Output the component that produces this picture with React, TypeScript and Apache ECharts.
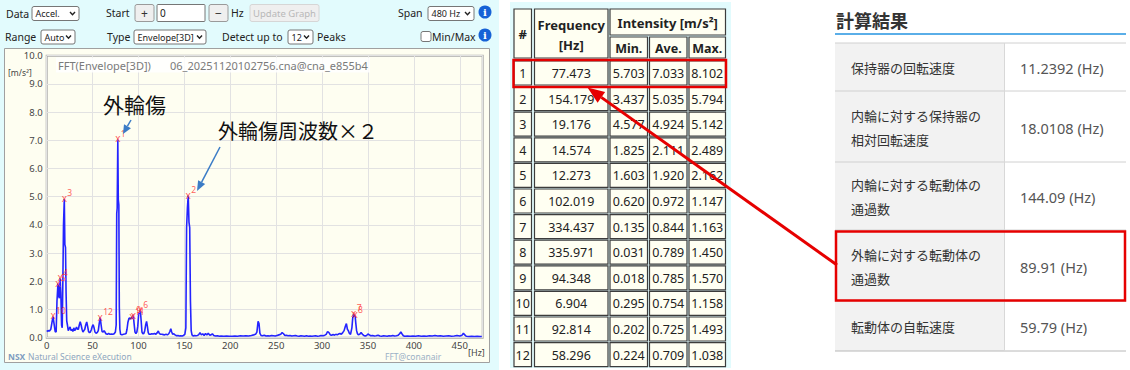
import { useEffect, useRef } from 'react';
import * as echarts from 'echarts';

// ---------- DATA ----------
const spectrumPoints: [number, number][] = [
  [0, 0.22], [1.5, 0.25], [3, 0.24], [4.5, 0.3], [5.8, 0.55], [6.9, 0.75], [8, 0.5], [9.2, 0.22], [10.3, 0.2],
  [11.2, 1.3], [12.27, 1.92], [13.2, 1.45], [13.8, 1.4], [14.57, 2.11], [15.4, 1.6], [16.2, 0.45], [16.9, 0.35],
  [17.6, 2.0], [18.3, 4.0], [19.18, 4.92], [19.8, 3.3], [20.5, 3.2], [21.1, 1.6], [21.8, 0.6], [22.6, 0.45],
  [23.5, 0.25], [24.5, 0.32], [25.5, 0.38], [26.5, 0.25], [27.5, 0.3], [28.5, 0.22], [29.5, 0.35], [30.5, 0.25],
  [31.5, 0.3], [32.5, 0.38], [33.5, 0.3], [34.5, 0.3], [35.5, 0.45], [36.5, 0.57], [37.5, 0.45], [38.5, 0.3],
  [39.5, 0.2], [40.5, 0.25], [41.5, 0.3], [42.5, 0.45], [43.6, 0.56], [44.6, 0.4], [45.6, 0.22], [46.6, 0.18],
  [47.6, 0.2], [48.6, 0.28], [49.6, 0.4], [50.6, 0.46], [51.6, 0.35], [52.6, 0.2], [53.8, 0.16], [55, 0.18],
  [56.2, 0.25], [57.2, 0.5], [58.3, 0.71], [59.3, 0.45], [60.3, 0.22], [61.5, 0.2], [62.5, 0.25], [63.5, 0.2],
  [64.5, 0.14], [66, 0.12], [67.5, 0.15], [69, 0.12], [70.5, 0.13], [72, 0.12], [73.5, 0.14], [74.8, 0.2],
  [75.7, 0.45], [76.3, 4.4], [76.8, 4.6], [77.47, 7.03], [78.0, 4.9], [78.6, 4.7], [79.1, 1.1], [79.7, 0.3],
  [80.5, 0.12], [82, 0.1], [83.5, 0.12], [85, 0.13], [86.5, 0.15], [87.5, 0.3], [88.5, 0.55], [89.6, 0.68],
  [90.6, 0.7], [91.6, 0.66], [92.81, 0.73], [93.6, 0.68], [94.35, 0.79], [95.2, 0.5], [96.2, 0.2], [97.2, 0.15],
  [98.2, 0.2], [99.2, 0.4], [100.2, 0.85], [101.1, 0.88], [102.02, 0.97], [102.9, 0.6], [103.8, 0.2], [104.8, 0.14],
  [105.8, 0.15], [106.8, 0.25], [107.8, 0.45], [108.8, 0.58], [109.7, 0.4], [110.6, 0.18], [111.6, 0.12], [113, 0.12],
  [114.5, 0.14], [116, 0.13], [117.5, 0.15], [119, 0.12], [120.5, 0.18], [121.6, 0.24], [122.7, 0.15], [124, 0.12],
  [125.5, 0.12], [127, 0.11], [128.5, 0.1], [130, 0.12], [131.5, 0.1], [133, 0.14], [134.2, 0.22], [135.2, 0.32],
  [136.2, 0.2], [137.2, 0.12], [138.5, 0.14], [139.8, 0.1], [141.5, 0.07], [143, 0.08], [144.5, 0.06], [146, 0.07],
  [147.5, 0.06], [149, 0.08], [150.5, 0.12], [151.6, 0.35], [152.4, 3.9], [153.3, 4.6], [154.18, 5.04], [155.0, 4.1],
  [155.8, 3.9], [156.6, 1.3], [157.4, 0.25], [158.3, 0.1], [159.5, 0.06], [161, 0.08], [162.5, 0.07], [164, 0.08],
  [165.5, 0.1], [167, 0.18], [168.5, 0.1], [170, 0.14], [171.5, 0.08], [173, 0.15], [174.5, 0.1], [176, 0.16],
  [177.5, 0.09], [179, 0.1], [180.5, 0.14], [182, 0.08], [184, 0.06], [186, 0.07], [188, 0.05], [190, 0.06],
  [193, 0.05], [196, 0.06], [199, 0.05], [202, 0.05], [205, 0.06], [208, 0.05], [211, 0.07], [214, 0.06],
  [217, 0.07], [220, 0.06], [223, 0.08], [225.5, 0.1], [227.5, 0.12], [229, 0.2], [230.3, 0.58], [231.3, 0.5],
  [232.3, 0.15], [233.5, 0.08], [235, 0.07], [237, 0.09], [239, 0.06], [241, 0.07], [243, 0.06], [245, 0.08],
  [247, 0.07], [249, 0.06], [251, 0.08], [253, 0.1], [255, 0.12], [256.5, 0.18], [258, 0.14], [259.5, 0.08],
  [261, 0.09], [263, 0.07], [265, 0.08], [267, 0.06], [269, 0.07], [271, 0.08], [273, 0.06], [275, 0.05],
  [277, 0.07], [279, 0.06], [281, 0.05], [283, 0.07], [285, 0.05], [287, 0.06], [289, 0.05], [291, 0.06],
  [293, 0.07], [295, 0.05], [297, 0.06], [299, 0.08], [301, 0.07], [303, 0.09], [304.5, 0.12], [306, 0.22],
  [307.5, 0.18], [309, 0.1], [310.5, 0.09], [312, 0.11], [313.5, 0.09], [315, 0.12], [316.5, 0.1], [318, 0.13],
  [319.5, 0.15], [321, 0.12], [322.5, 0.18], [324, 0.25], [325.3, 0.4], [326.5, 0.5], [327.6, 0.3], [328.6, 0.25],
  [329.8, 0.15], [331, 0.12], [332.5, 0.35], [333.4, 0.7], [334.44, 0.84], [335.2, 0.75], [335.97, 0.79], [336.8, 0.5],
  [337.6, 0.25], [338.5, 0.15], [339.5, 0.1], [341, 0.12], [342.5, 0.18], [344, 0.12], [345.5, 0.08], [347, 0.06],
  [348.5, 0.08], [350, 0.13], [351.5, 0.1], [353, 0.07], [355, 0.08], [357, 0.06], [359, 0.07], [361, 0.09],
  [363, 0.06], [365, 0.05], [367, 0.07], [369, 0.06], [371, 0.05], [373, 0.07], [375, 0.06], [377, 0.08],
  [379, 0.06], [381, 0.07], [383, 0.09], [384.5, 0.14], [385.8, 0.2], [387, 0.14], [388.5, 0.07], [390, 0.05],
  [393, 0.06], [396, 0.05], [399, 0.06], [402, 0.05], [405, 0.07], [408, 0.05], [411, 0.06], [414, 0.05],
  [417, 0.07], [420, 0.06], [423, 0.08], [426, 0.06], [429, 0.07], [432, 0.05], [435, 0.06], [438, 0.07],
  [441, 0.05], [444, 0.06], [447, 0.08], [450, 0.06], [452.5, 0.09], [454, 0.16], [455.5, 0.1], [457, 0.05],
  [460, 0.04], [463, 0.05], [466, 0.04], [469, 0.05], [472, 0.04], [474, 0.04],
];

const peakFreq = [77.473, 154.179, 19.176, 14.574, 12.273, 102.019, 334.437, 335.971, 94.348, 6.904, 92.814, 58.296];
const peakMin = [5.703, 3.437, 4.577, 1.825, 1.603, 0.620, 0.135, 0.031, 0.018, 0.295, 0.202, 0.224];
const peakAve = [7.033, 5.035, 4.924, 2.111, 1.920, 0.972, 0.844, 0.789, 0.785, 0.754, 0.725, 0.709];
const peakMax = [8.102, 5.794, 5.142, 2.489, 2.162, 1.147, 1.163, 1.450, 1.570, 1.158, 1.493, 1.038];

const xAxisMax = 475;
const yAxisMax = 10;

const chartTitle = 'FFT(Envelope[3D])';
const fileName = '06_20251120102756.cna@cna_e855b4';
const annotation1 = '外輪傷';
const annotation2 = '外輪傷周波数×２';

const resultTitle = '計算結果';
const resultLabels: string[][] = [
  ['保持器の回転速度'],
  ['内輪に対する保持器の', '相対回転速度'],
  ['内輪に対する転動体の', '通過数'],
  ['外輪に対する転動体の', '通過数'],
  ['転動体の自転速度'],
];
const resultValues = ['11.2392 (Hz)', '18.0108 (Hz)', '144.09 (Hz)', '89.91 (Hz)', '59.79 (Hz)'];

// ---------- STYLE HELPERS ----------
const F = '"Noto Sans", "DejaVu Sans", sans-serif';
const FJ = '"Noto Sans CJK JP", "Noto Sans", sans-serif';
const CYAN = '#e2fbfd';
const CREAM = '#fefef1';

type TOpt = { size?: number; weight?: string; color?: string; align?: string; family?: string; z?: number };
const T = (text: string, x: number, y: number, o: TOpt = {}) => ({
  type: 'text', x, y, z: o.z ?? 10, silent: true,
  style: {
    text, fill: o.color ?? '#222', fontSize: o.size ?? 10.5, fontWeight: o.weight ?? 'normal',
    fontFamily: o.family ?? F, align: o.align ?? 'left', verticalAlign: 'middle',
    textAlign: o.align ?? 'left', textVerticalAlign: 'middle',
  },
});
const R = (x: number, y: number, w: number, h: number, fill: string, stroke = 'none', lw = 1, z = -10, r = 0) => ({
  type: 'rect', z, silent: true, shape: { x, y, width: w, height: h, r },
  style: { fill, stroke, lineWidth: lw },
});
const L = (x1: number, y1: number, x2: number, y2: number, color: string, lw = 1, z = 10) => ({
  type: 'line', z, silent: true, shape: { x1, y1, x2, y2 }, style: { stroke: color, lineWidth: lw },
});
const arrow = (x1: number, y1: number, x2: number, y2: number, color: string, lw: number, hl: number, hw: number, z = 20) => {
  const dx = x2 - x1, dy = y2 - y1, len = Math.hypot(dx, dy);
  const ux = dx / len, uy = dy / len;
  const bx = x2 - ux * hl, by = y2 - uy * hl;
  const px = -uy, py = ux;
  return [
    L(x1, y1, bx, by, color, lw, z),
    {
      type: 'polygon', z, silent: true,
      shape: { points: [[x2, y2], [bx + px * hw / 2, by + py * hw / 2], [bx - px * hw / 2, by - py * hw / 2]] },
      style: { fill: color },
    },
  ];
};
const select = (x: number, y: number, w: number, h: number, label: string) => [
  R(x, y, w, h, '#ffffff', '#767676', 1, 5, 2),
  T(label, x + 3.5, y + h / 2, { size: 9, z: 6 }),
  {
    type: 'polyline', z: 6, silent: true,
    shape: { points: [[x + w - 9, y + h / 2 - 1.5], [x + w - 6.5, y + h / 2 + 1.2], [x + w - 4, y + h / 2 - 1.5]] },
    style: { stroke: '#222', lineWidth: 1.4, fill: 'none' },
  },
];
const button = (x: number, y: number, w: number, h: number, label: string, color = '#333', stroke = '#9a9a9a', size = 12) => [
  R(x, y, w, h, '#efefef', stroke, 1, 5, 2),
  T(label, x + w / 2, y + h / 2, { size, color, align: 'center', z: 6 }),
];
const info = (cx: number, cy: number) => [
  { type: 'circle', z: 5, silent: true, shape: { cx, cy, r: 6.5 }, style: { fill: '#1662d6' } },
  T('i', cx, cy, { size: 10, weight: 'bold', color: '#fff', align: 'center', family: '"DejaVu Serif", serif', z: 6 }),
];

export default function App() {
  const ref = useRef<HTMLDivElement>(null);
  useEffect(() => {
    if (!ref.current) return;
    const chart = echarts.init(ref.current, undefined, { renderer: 'svg' });

    const g: any[] = [];
    // backgrounds
    g.push(R(0, 0, 499, 370, CYAN, 'none', 0, -20));
    g.push(R(4.5, 48.5, 485, 314, CREAM, '#a0a0a0', 1, -15));
    g.push(R(510, 2, 221, 366, CYAN, 'none', 0, -20));
    g.push(R(835, 43, 169, 308, '#f2f2f2', 'none', 0, -20));

    // control bar row 1
    g.push(T('Data', 6, 13.5));
    g.push(...select(32, 6.5, 47, 14, 'Accel.'));
    g.push(T('Start', 106, 13));
    g.push(...button(135, 4.5, 19, 17, '+'));
    g.push(R(157, 4.5, 48, 17, '#ffffff', '#767676', 1, 5, 1));
    g.push(T('0', 160, 13, { size: 10 }));
    g.push(...button(209, 4.5, 19, 17, '−'));
    g.push(T('Hz', 231, 13));
    g.push(...button(250, 4.5, 69, 17, 'Update Graph', '#b8b8b8', '#d6d6d6', 9.5));
    g.push(T('Span', 398, 13));
    g.push(...select(428, 6.5, 46, 14, '480 Hz'));
    g.push(...info(485, 12));
    // control bar row 2
    g.push(T('Range', 5, 36.5));
    g.push(...select(41, 30, 34, 14, 'Auto'));
    g.push(T('Type', 107, 36.5));
    g.push(...select(134, 30, 72, 14, 'Envelope[3D]'));
    g.push(T('Detect up to', 222, 36.5));
    g.push(...select(288, 30, 25, 14, '12'));
    g.push(T('Peaks', 317, 36.5));
    g.push(R(421, 31.5, 10, 10, '#ffffff', '#767676', 1, 5, 2));
    g.push(T('Min/Max', 432, 36.5));
    g.push(...info(485, 35));

    // chart decorations
    g.push(R(56, 57.5, 314, 15, 'rgba(255,255,255,0.85)', 'none', 0, 5));
    g.push(T(chartTitle, 58, 65, { size: 11, color: '#7a7a7a' }));
    g.push(T(fileName, 170, 65, { size: 11, color: '#7a7a7a' }));
    g.push(T('[m/s²]', 8, 72, { size: 8.5, color: '#444' }));
    g.push(T('[Hz]', 468, 352, { size: 9, color: '#444' }));
    g.push(T('NSX', 8, 356, { size: 8.5, weight: 'bold', color: '#7d9cc0' }));
    g.push(T('Natural Science eXecution', 28, 356, { size: 8.5, color: '#8ea6c0' }));
    g.push(T('FFT@conanair', 385, 356, { size: 8.5, color: '#9ab0c6' }));
    g.push(T(annotation1, 103, 103.5, { size: 21, family: FJ, color: '#111' }));
    g.push(T(annotation2, 218, 130, { size: 20, family: FJ, color: '#111' }));
    g.push(...arrow(131, 120, 123, 134, '#3b7cc6', 1.5, 9, 8));
    g.push(...arrow(220, 147, 197, 191, '#3b7cc6', 1.5, 10, 8));

    // peak table
    const cols = [[514, 531.5], [534.5, 608], [610, 647.5], [649.5, 687], [689, 725.5]];
    const cell = (x1: number, x2: number, y1: number, y2: number) =>
      R(x1, y1, x2 - x1, y2 - y1, '#fffff2', '#3c3c3c', 1.2, -5);
    g.push(cell(cols[0][0], cols[0][1], 9, 58));
    g.push(cell(cols[1][0], cols[1][1], 9, 58));
    g.push(cell(cols[2][0], cols[4][1], 9, 35));
    g.push(cell(cols[2][0], cols[2][1], 37, 58));
    g.push(cell(cols[3][0], cols[3][1], 37, 58));
    g.push(cell(cols[4][0], cols[4][1], 37, 58));
    const cx = (c: number[]) => (c[0] + c[1]) / 2;
    g.push(T('#', cx(cols[0]), 34, { size: 13, weight: 'bold', align: 'center' }));
    g.push(T('Frequency', cx(cols[1]), 25, { size: 13, weight: 'bold', align: 'center' }));
    g.push(T('[Hz]', cx(cols[1]), 45, { size: 13, weight: 'bold', align: 'center' }));
    g.push(T('Intensity [m/s²]', (cols[2][0] + cols[4][1]) / 2, 22.5, { size: 13, weight: 'bold', align: 'center' }));
    g.push(T('Min.', cx(cols[2]), 48.5, { size: 12.5, weight: 'bold', align: 'center' }));
    g.push(T('Ave.', cx(cols[3]), 48.5, { size: 12.5, weight: 'bold', align: 'center' }));
    g.push(T('Max.', cx(cols[4]), 48.5, { size: 12.5, weight: 'bold', align: 'center' }));
    peakFreq.forEach((f, i) => {
      const top = 61 + i * 25.6;
      const bot = top + 24;
      const mid = top + 12.5;
      cols.forEach((c) => g.push(cell(c[0], c[1], top, bot)));
      g.push(T(String(i + 1), cx(cols[0]), mid, { size: 12.5, align: 'center' }));
      g.push(T(f.toFixed(3), cx(cols[1]), mid, { size: 12.5, align: 'center' }));
      g.push(T(peakMin[i].toFixed(3), cx(cols[2]), mid, { size: 12.5, align: 'center' }));
      g.push(T(peakAve[i].toFixed(3), cx(cols[3]), mid, { size: 12.5, align: 'center' }));
      g.push(T(peakMax[i].toFixed(3), cx(cols[4]), mid, { size: 12.5, align: 'center' }));
    });
    g.push(R(513.5, 60, 212.5, 27, 'none', '#e60000', 2.5, 30));

    // results panel
    g.push(T(resultTitle, 836, 20, { size: 18, weight: 'bold', family: FJ, color: '#333' }));
    g.push(L(835, 34, 1126, 34, '#5aaee8', 2, 5));
    const bounds = [43, 91, 162, 230, 301, 351];
    bounds.forEach((b, i) => g.push(L(835, b, 1126, b, i === bounds.length - 1 ? '#b8b8b8' : '#d0d0d0', 1, 5)));
    g.push(L(1004.5, 43, 1004.5, 351, '#d8d8d8', 1, 5));
    resultLabels.forEach((lines, i) => {
      const mid = (bounds[i] + bounds[i + 1]) / 2;
      if (lines.length === 1) {
        g.push(T(lines[0], 851, mid, { size: 13, family: FJ, color: '#333' }));
      } else {
        g.push(T(lines[0], 851, mid - 11.5, { size: 13, family: FJ, color: '#333' }));
        g.push(T(lines[1], 851, mid + 12.5, { size: 13, family: FJ, color: '#333' }));
      }
      g.push(T(resultValues[i], 1020, mid + 1, { size: 14.5, color: '#555' }));
    });
    g.push(R(836, 231.5, 289, 69, 'none', '#e60000', 2.5, 30));
    g.push(...arrow(837, 265, 587.5, 87.5, '#e60000', 3, 17, 13, 31));

    chart.setOption({
      animation: false,
      backgroundColor: '#ffffff',
      grid: {
        left: 46.7, top: 55.7, right: 1130 - 482.7, bottom: 370 - 337.7,
        show: true, backgroundColor: CREAM, borderColor: '#ababab', borderWidth: 2,
      },
      xAxis: {
        type: 'value', min: 0, max: xAxisMax, interval: 50,
        axisLine: { show: false }, axisTick: { show: false },
        splitLine: { show: true, lineStyle: { color: '#e2e2e2', width: 1 } },
        axisLabel: {
          fontSize: 9.5, color: '#444', margin: 3, fontFamily: F,
          formatter: (v: number) => (v % 50 === 0 ? String(v) : ''),
        },
      },
      yAxis: {
        type: 'value', min: 0, max: yAxisMax, interval: 1,
        axisLine: { show: false }, axisTick: { show: false },
        splitLine: { show: true, lineStyle: { color: '#e2e2e2', width: 1 } },
        axisLabel: { fontSize: 9.5, color: '#444', margin: 4, fontFamily: F, formatter: (v: number) => v.toFixed(1) },
      },
      series: [
        {
          type: 'line', data: spectrumPoints, showSymbol: false, symbol: 'none', silent: true, z: 2,
          lineStyle: { color: '#2424ff', width: 1.6 },
        },
        {
          type: 'scatter', data: peakFreq.map((f, i) => [f, peakAve[i]]), symbolSize: 1, silent: true, z: 4,
          itemStyle: { color: 'rgba(0,0,0,0)' },
          label: { show: true, position: 'inside', formatter: 'x', fontSize: 10, color: '#ff3333', fontFamily: F, offset: [0, -1] },
        },
        {
          type: 'scatter', data: peakFreq.map((f, i) => [f, peakAve[i]]), symbolSize: 1, silent: true, z: 4,
          itemStyle: { color: 'rgba(0,0,0,0)' },
          label: {
            show: true, position: 'inside', align: 'left', offset: [3, -6],
            formatter: (p: any) => String(p.dataIndex + 1), fontSize: 8.5, color: '#ff3333', fontFamily: F,
          },
        },
      ],
      graphic: g,
    });
    return () => chart.dispose();
  }, []);
  return <div ref={ref} style={{ position: 'absolute', left: 0, top: 0, width: 1130, height: 370 }} />;
}
